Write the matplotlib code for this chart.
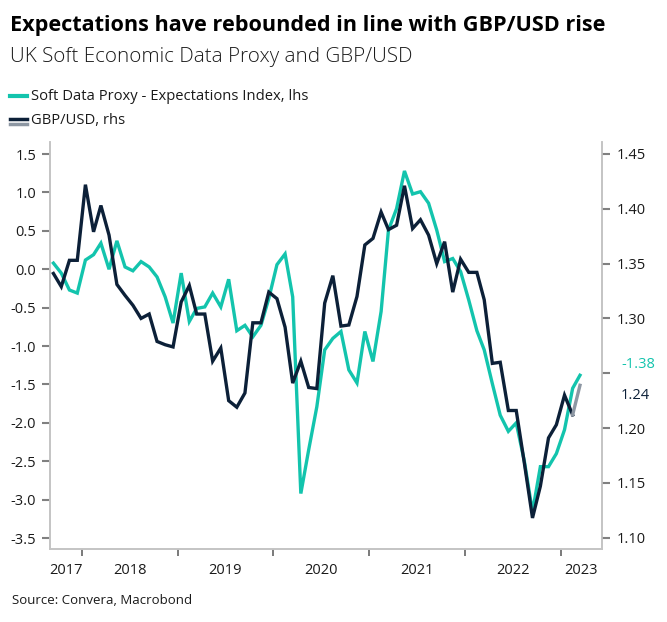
import datetime as dt

import matplotlib
matplotlib.use("Agg")
import matplotlib.pyplot as plt
import matplotlib.dates as mdates
import pandas as pd
from matplotlib.lines import Line2D

# monthly data, Sep 2017 .. Mar 2023
months = pd.date_range("2017-09-01", "2023-03-01", freq="MS") + pd.Timedelta(days=14)

soft_data = [0.08, -0.05, -0.27, -0.31, 0.12, 0.19, 0.34, 0.00, 0.37, 0.03,
             -0.02, 0.10, 0.03, -0.10, -0.36, -0.70, -0.05, -0.68, -0.51, -0.49,
             -0.31, -0.49, -0.13, -0.80, -0.73, -0.88, -0.73, -0.38, 0.06, 0.20,
             -0.36, -2.92, -2.35, -1.79, -1.05, -0.90, -0.81, -1.31, -1.48, -0.81,
             -1.20, -0.55, 0.51, 0.79, 1.28, 0.98, 1.01, 0.86, 0.51, 0.10,
             0.14, -0.03, -0.40, -0.80, -1.05, -1.49, -1.90, -2.11, -2.00, -2.50,
             -3.16, -2.57, -2.57, -2.40, -2.09, -1.55, -1.38]

gbpusd = [1.341, 1.329, 1.353, 1.353, 1.422, 1.379, 1.403, 1.376, 1.331, 1.321,
          1.312, 1.300, 1.304, 1.279, 1.276, 1.274, 1.315, 1.330, 1.304, 1.304,
          1.261, 1.273, 1.225, 1.219, 1.232, 1.296, 1.296, 1.324, 1.318, 1.292,
          1.241, 1.261, 1.237, 1.236, 1.314, 1.339, 1.293, 1.294, 1.320, 1.367,
          1.373, 1.397, 1.381, 1.385, 1.421, 1.382, 1.390, 1.376, 1.350, 1.370,
          1.324, 1.354, 1.342, 1.342, 1.317, 1.259, 1.260, 1.216, 1.216, 1.168,
          1.118, 1.147, 1.191, 1.203, 1.230, 1.212, 1.239]

left_ticks = [1.5, 1.0, 0.5, 0.0, -0.5, -1.0, -1.5, -2.0, -2.5, -3.0, -3.5]
right_ticks = [1.10, 1.15, 1.20, 1.25, 1.30, 1.35, 1.40, 1.45]
right_labels = ["1.10", "1.15", "1.20", "", "1.30", "1.35", "1.40", "1.45"]
years = [2017, 2018, 2019, 2020, 2021, 2022, 2023]

TEAL = "#13c4ad"
NAVY = "#0c2038"
GREY = "#8d97a3"
SPINE = "#c4c4c4"
TXT = "#1a1a1a"

plt.rcParams["font.family"] = ["Open Sans", "DejaVu Sans"]

fig = plt.figure(figsize=(6.67, 6.22), dpi=100)
ax = fig.add_axes([50 / 667, 1 - 549.3 / 622, 551.5 / 667, 407.6 / 622])
ax2 = ax.twinx()

ax.plot(months, soft_data, color=TEAL, lw=2.4, solid_joinstyle="miter")
ax2.plot(months[:-1], gbpusd[:-1], color=NAVY, lw=2.4, solid_joinstyle="miter")
ax2.plot(months[-2:], gbpusd[-2:], color=GREY, lw=2.4)

x0 = dt.datetime(2017, 9, 2)
x1 = dt.datetime(2023, 6, 5)
ax.set_xlim(x0, x1)
ax.set_ylim(-3.646, 1.661)
ax2.set_ylim(1.0894, 1.4612)

ax.set_yticks(left_ticks)
ax.set_yticklabels([f"{v:.1f}" for v in left_ticks])
ax2.set_yticks(right_ticks)
ax2.set_yticklabels(right_labels)

# year boundaries as tick marks, year labels centred in between
ax.set_xticks([dt.datetime(y, 1, 1) for y in years[1:]])
ax.set_xticklabels([])
label_pos = []
for y in years:
    a = max(mdates.date2num(dt.datetime(y, 1, 1)), mdates.date2num(x0))
    b = min(mdates.date2num(dt.datetime(y + 1, 1, 1)), mdates.date2num(x1))
    label_pos.append((a + b) / 2)
ax.set_xticks(label_pos, minor=True)
ax.set_xticklabels([str(y) for y in years], minor=True)
ax.tick_params(axis="x", which="minor", length=0, pad=10, labelsize=10.5, labelcolor=TXT)
ax.tick_params(axis="x", which="major", length=5, width=1.3, color="#707070")

ax.tick_params(axis="y", length=6, width=1.5, color="#808080", labelsize=10.5,
               labelcolor=TXT, pad=4)
ax2.tick_params(axis="y", length=6, width=1.5, color="#808080", labelsize=10.5,
                labelcolor=TXT, pad=5)

for a in (ax, ax2):
    a.spines["top"].set_visible(False)
    for s in ("left", "right", "bottom"):
        a.spines[s].set_color(SPINE)
        a.spines[s].set_linewidth(1.2)

# last values at the right edge
ax.annotate(f"{soft_data[-1]:.2f}", xy=(1, soft_data[-1]),
            xycoords=("axes fraction", "data"), xytext=(14, 8),
            textcoords="offset points", color=TEAL, fontsize=10.5, va="center")
ax2.annotate(f"{gbpusd[-1]:.2f}", xy=(1, gbpusd[-1]),
             xycoords=("axes fraction", "data"), xytext=(14, -7),
             textcoords="offset points", color=NAVY, fontsize=10.5, va="center")

# titles
fig.text(10 / 667, 1 - 25 / 622, "Expectations have rebounded in line with GBP/USD rise",
         fontsize=15.6, fontweight="bold", color="black", va="center")
fig.text(10 / 667, 1 - 57 / 622, "UK Soft Economic Data Proxy and GBP/USD",
         fontsize=14.8, fontweight="light", color=TXT, va="center")

# legend
fig.add_artist(Line2D([10 / 667, 27 / 667], [1 - 96 / 622] * 2, color=TEAL, lw=3,
                      transform=fig.transFigure))
fig.text(31 / 667, 1 - 96 / 622, "Soft Data Proxy - Expectations Index, lhs",
         fontsize=10.6, color=TXT, va="center")
fig.add_artist(Line2D([10 / 667, 27 / 667], [1 - 118.5 / 622] * 2, color=NAVY, lw=2.5,
                      transform=fig.transFigure))
fig.add_artist(Line2D([10 / 667, 27 / 667], [1 - 123.5 / 622] * 2, color=GREY, lw=2.5,
                      transform=fig.transFigure))
fig.text(31 / 667, 1 - 121 / 622, "GBP/USD, rhs", fontsize=10.6, color=TXT, va="center")

fig.text(12 / 667, 1 - 600 / 622, "Source: Convera, Macrobond", fontsize=9.5,
         color=TXT, va="center")

fig.savefig("out.png", dpi=100)
